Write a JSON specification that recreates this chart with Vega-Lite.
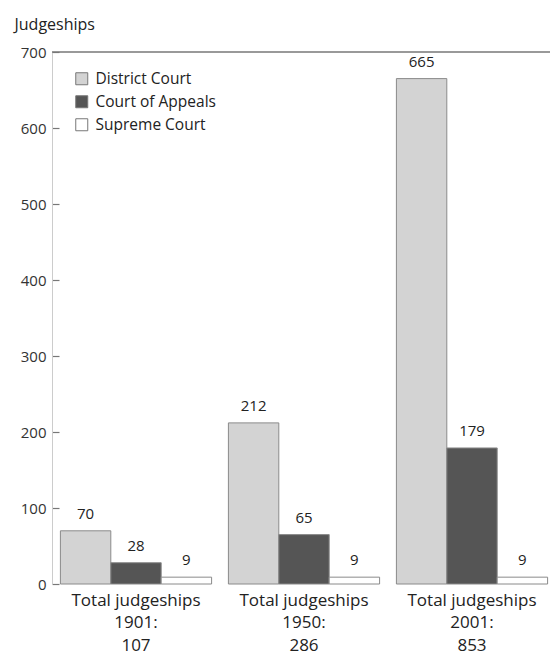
{
  "$schema": "https://vega.github.io/schema/vega-lite/v6.json",
  "width": 504,
  "height": 532,
  "autosize": {"type": "none"},
  "padding": {"left": 52, "top": 52, "right": 0, "bottom": 74},
  "background": "white",
  "config": {"view": {"stroke": null}, "font": "Open Sans"},
  "data": {
    "values": [
      {"period": "Total judgeships|1901:|107", "court": "District Court", "value": 70},
      {"period": "Total judgeships|1901:|107", "court": "Court of Appeals", "value": 28},
      {"period": "Total judgeships|1901:|107", "court": "Supreme Court", "value": 9},
      {"period": "Total judgeships|1950:|286", "court": "District Court", "value": 212},
      {"period": "Total judgeships|1950:|286", "court": "Court of Appeals", "value": 65},
      {"period": "Total judgeships|1950:|286", "court": "Supreme Court", "value": 9},
      {"period": "Total judgeships|2001:|853", "court": "District Court", "value": 665},
      {"period": "Total judgeships|2001:|853", "court": "Court of Appeals", "value": 179},
      {"period": "Total judgeships|2001:|853", "court": "Supreme Court", "value": 9}
    ]
  },
  "layer": [
    {
      "mark": {"type": "bar", "stroke": "#8a8a8a", "strokeWidth": 1},
      "encoding": {
        "x": {"field": "period", "type": "nominal", "sort": null,
          "scale": {"paddingInner": 0.1, "paddingOuter": 0.05},
          "axis": {"title": null, "labelAngle": 0, "labelExpr": "split(datum.label, '|')", "labelFontSize": 17, "labelLineHeight": 22.5, "labelColor": "#222", "ticks": false, "domain": false, "labelPadding": 8}},
        "xOffset": {"field": "court", "type": "nominal", "sort": ["District Court", "Court of Appeals", "Supreme Court"], "scale": {"paddingInner": 0, "paddingOuter": 0}},
        "y": {"field": "value", "type": "quantitative", "scale": {"domain": [0, 700], "nice": false},
          "axis": {"values": [0, 100, 200, 300, 400, 500, 600, 700], "grid": false, "title": "Judgeships", "titleAngle": 0, "titleAlign": "left", "titleBaseline": "alphabetic", "titleX": -38, "titleY": -23, "titleFontSize": 16, "titleFontWeight": "normal", "titleColor": "#222", "labelFontSize": 15, "labelColor": "#333", "tickColor": "#777", "tickSize": -7, "tickWidth": 1.2, "domainColor": "#ccc", "labelPadding": 13}},
        "color": {"field": "court", "type": "nominal", "sort": ["District Court", "Court of Appeals", "Supreme Court"],
          "scale": {"domain": ["District Court", "Court of Appeals", "Supreme Court"], "range": ["#d3d3d3", "#555555", "#ffffff"]},
          "legend": {"title": null, "orient": "none", "legendX": 22, "legendY": 19, "symbolType": "square", "symbolSize": 144, "symbolStrokeColor": "#777", "symbolStrokeWidth": 1, "symbolOpacity": 1, "labelFontSize": 15.5, "labelColor": "#222", "rowPadding": 5, "labelOffset": 6}}
      }
    },
    {
      "mark": {"type": "text", "dy": -9, "fontSize": 15, "color": "#222", "baseline": "bottom"},
      "encoding": {
        "x": {"field": "period", "type": "nominal", "sort": null},
        "xOffset": {"field": "court", "type": "nominal", "sort": ["District Court", "Court of Appeals", "Supreme Court"]},
        "y": {"field": "value", "type": "quantitative"},
        "text": {"field": "value", "type": "quantitative"}
      }
    },
    {
      "data": {"values": [{"v": 700}]},
      "mark": {"type": "rule", "color": "#777", "strokeWidth": 1.5},
      "encoding": {"y": {"field": "v", "type": "quantitative"}}
    }
  ]
}
